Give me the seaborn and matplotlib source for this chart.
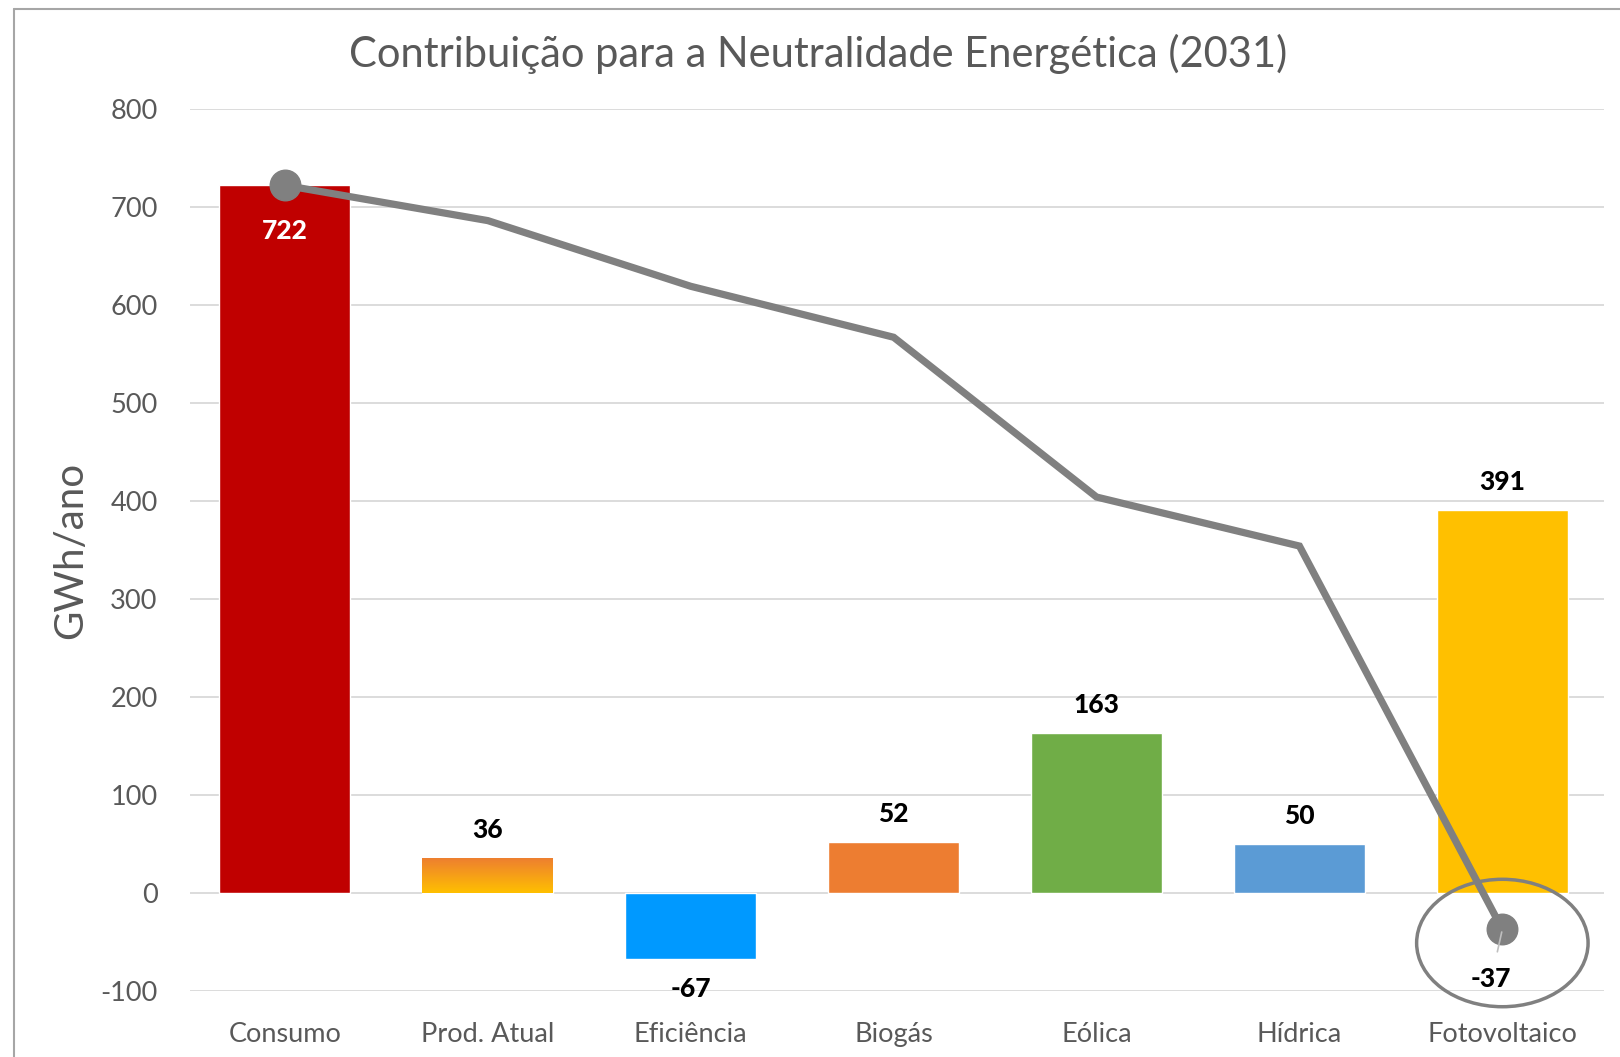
import numpy as np
import pandas as pd
import matplotlib
matplotlib.use('Agg')
import matplotlib.pyplot as plt
from matplotlib.patches import Ellipse
from matplotlib.lines import Line2D
import seaborn as sns

# dados
categorias = ['Consumo', 'Prod. Atual', 'Eficiência', 'Biogás', 'Eólica', 'Hídrica', 'Fotovoltaico']
valores = [722, 36, -67, 52, 163, 50, 391]
restante = [722, 686, 619, 567, 404, 354, -37]
cores = ['#C00000', '#ED7D31', '#0099FF', '#ED7D31', '#70AD47', '#5B9BD5', '#FFC000']
yticks = [-100, 0, 100, 200, 300, 400, 500, 600, 700, 800]

sns.set_theme(style='white')
plt.rcParams['font.family'] = ['Lato', 'DejaVu Sans']
plt.rcParams['axes.unicode_minus'] = False

cinza_txt = '#595959'
cinza_linha = '#808080'

fig = plt.figure(figsize=(16.2, 10.57), dpi=100)
ax = fig.add_axes([0.117, 0.0624, 0.873, 0.8346])

df = pd.DataFrame({'categoria': categorias, 'valor': valores})
sns.barplot(data=df, x='categoria', y='valor', hue='categoria', palette=cores,
            order=categorias, legend=False, width=0.645, saturation=1, ax=ax)

# gradiente laranja -> amarelo na barra "Prod. Atual"
barra = ax.patches[1]
x0, y0 = barra.get_x(), barra.get_y()
w, h = barra.get_width(), barra.get_height()
grad = np.linspace(0, 1, 256).reshape(-1, 1)
cmap = matplotlib.colors.LinearSegmentedColormap.from_list('g', ['#FFC000', '#ED7D31'])
img = ax.imshow(grad, cmap=cmap, aspect='auto', origin='lower',
                extent=[x0, x0 + w, y0, y0 + h], zorder=barra.get_zorder() + 0.1)
img.set_clip_path(barra)

# linha do restante
ax.plot(range(len(categorias)), restante, color=cinza_linha, lw=5.2,
        solid_capstyle='round', solid_joinstyle='miter', zorder=5)
ax.plot([0, len(categorias) - 1], [restante[0], restante[-1]], 'o',
        color=cinza_linha, ms=22, zorder=6)

# rótulos
rot = dict(ha='center', va='center', fontsize=19, fontweight='black',
           textcoords='offset points')
for i, v in enumerate(valores):
    if i == 0:
        ax.annotate(str(v), (i, v), xytext=(0, -33), color='white', **rot)
    elif v < 0:
        ax.annotate(str(v), (i, v), xytext=(0, -22), color='black', **rot)
    else:
        ax.annotate(str(v), (i, v), xytext=(0, 20), color='black', **rot)

n = len(categorias) - 1
ax.annotate(str(restante[-1]), (n, restante[-1]), xytext=(-8, -36), color='black',
            zorder=7, arrowprops=dict(arrowstyle='-', color='#BFBFBF', lw=1.2,
                                      shrinkA=9, shrinkB=2), **rot)

ax.add_patch(Ellipse((n, -51), 0.845, 130, fill=False, ec=cinza_linha, lw=2.5,
                     zorder=7, clip_on=False))

ax.set_ylim(-100, 800)
ax.set_xlim(-0.47, 6.5)
ax.set_yticks(yticks)
ax.yaxis.grid(True, color='#D9D9D9', lw=1.3)
ax.set_axisbelow(True)
for s in ax.spines.values():
    s.set_visible(False)
ax.tick_params(axis='both', length=0, labelsize=19.5, colors=cinza_txt)
ax.tick_params(axis='x', pad=22)
ax.tick_params(axis='y', pad=23)
ax.set_xlabel('')
ax.set_ylabel('GWh/ano', fontsize=29, color=cinza_txt, labelpad=8)

fig.suptitle('Contribuição para a Neutralidade Energética (2031)', fontsize=30,
             color=cinza_txt, x=0.505, y=0.949, va='center')

# moldura do gráfico
fig.add_artist(Line2D([14 / 1620, 14 / 1620], [0, 1 - 9 / 1057],
                      transform=fig.transFigure, color='#A6A6A6', lw=1.5))
fig.add_artist(Line2D([14 / 1620, 1], [1 - 9 / 1057, 1 - 9 / 1057],
                      transform=fig.transFigure, color='#A6A6A6', lw=1.5))

fig.savefig('out.png', dpi=100)
